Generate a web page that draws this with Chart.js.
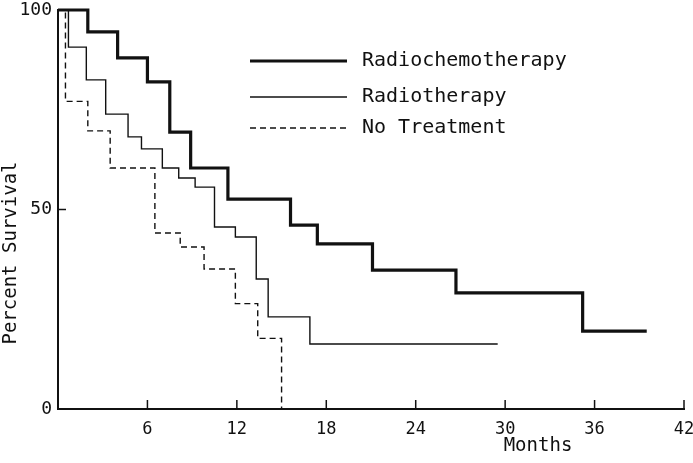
<!DOCTYPE html>
<html>
<head>
<meta charset="utf-8">
<script src="https://cdn.jsdelivr.net/npm/chart.js@4.4.1/dist/chart.umd.min.js"></script>
<style>
  html, body { margin: 0; padding: 0; background: #fff; }
  #wrap { width: 693px; height: 463px; }
</style>
</head>
<body>
<div id="wrap"><canvas id="chart" width="693" height="463"></canvas></div>
<script>
// =========================
// DATA (months / percent surviving)
// =========================
const radiochemoMonths = [0, 2.0, 4.0, 6.0, 7.5, 8.9, 11.4, 15.6, 17.4, 21.1, 26.7, 35.2, 39.5];
const radiochemoSurvival = [100, 94.5, 88.0, 82.0, 69.4, 60.4, 52.6, 46.1, 41.4, 34.8, 29.1, 19.5, 19.5];

const radioMonths = [0, 0.7, 1.9, 3.2, 4.7, 5.6, 7.0, 8.1, 9.2, 10.5, 11.9, 13.3, 14.1, 16.9, 29.5];
const radioSurvival = [100, 90.7, 82.5, 73.9, 68.2, 65.2, 60.4, 57.9, 55.6, 45.6, 43.1, 32.6, 23.1, 16.3, 16.3];

const noTreatMonths = [0, 0.5, 2.0, 3.5, 6.5, 8.2, 9.8, 11.9, 13.4, 15.0];
const noTreatSurvival = [100, 77.1, 69.7, 60.4, 44.1, 40.6, 35.1, 26.4, 17.7, 0];

const seriesLabels = ["Radiochemotherapy", "Radiotherapy", "No Treatment"];
const xTicks = [6, 12, 18, 24, 30, 36, 42];
const yTicks = [0, 50, 100];

const xTitle = "Months";
const yTitle = "Percent Survival";

const FONT = "'DejaVu Sans Mono', 'Liberation Mono', monospace";
const INK = "#111";

function toPoints(xs, ys) {
  return xs.map((x, i) => ({ x: x, y: ys[i] }));
}

// =========================
// PLUGIN: inward ticks, legend, axis titles
// =========================
const paperPlugin = {
  id: "paper",
  beforeDraw(chart) {
    const ctx = chart.ctx;
    ctx.save();
    ctx.fillStyle = "#fff";
    ctx.fillRect(0, 0, chart.width, chart.height);
    ctx.restore();
  },
  afterDraw(chart) {
    const ctx = chart.ctx;
    const area = chart.chartArea;
    const xs = chart.scales.x;
    const ys = chart.scales.y;

    ctx.save();
    ctx.strokeStyle = INK;
    ctx.lineWidth = 1.5;

    // ticks point into the plot
    xs.ticks.forEach((t) => {
      const px = xs.getPixelForValue(t.value);
      ctx.beginPath();
      ctx.moveTo(px, area.bottom);
      ctx.lineTo(px, area.bottom - 9);
      ctx.stroke();
    });
    ys.ticks.forEach((t) => {
      const py = ys.getPixelForValue(t.value);
      ctx.beginPath();
      ctx.moveTo(area.left, py);
      ctx.lineTo(area.left + 8, py);
      ctx.stroke();
    });

    // legend
    const rows = [51, 87, 118];
    ctx.font = "20px " + FONT;
    ctx.fillStyle = INK;
    ctx.textBaseline = "middle";
    ctx.textAlign = "left";
    chart.data.datasets.forEach((ds, i) => {
      const y = area.top + rows[i];
      ctx.save();
      ctx.lineWidth = ds.borderWidth;
      ctx.setLineDash(ds.borderDash || []);
      ctx.beginPath();
      ctx.moveTo(area.left + 192, y);
      ctx.lineTo(area.left + 289, y);
      ctx.stroke();
      ctx.restore();
      ctx.fillText(ds.label, area.left + 304, y);
    });

    // axis titles
    ctx.font = "19px " + FONT;
    ctx.textAlign = "center";
    ctx.fillText(xTitle, area.left + 480, area.bottom + 37);

    ctx.translate(area.left - 47, area.top + 243);
    ctx.rotate(-Math.PI / 2);
    ctx.fillText(yTitle, 0, 0);
    ctx.restore();
  },
};

// =========================
// CHART
// =========================
const lineStyles = [
  { width: 3.2, dash: [] },
  { width: 1.4, dash: [] },
  { width: 1.4, dash: [6, 4] },
];

const seriesData = [
  toPoints(radiochemoMonths, radiochemoSurvival),
  toPoints(radioMonths, radioSurvival),
  toPoints(noTreatMonths, noTreatSurvival),
];

new Chart(document.getElementById("chart"), {
  type: "line",
  data: {
    datasets: seriesData.map((pts, i) => ({
      label: seriesLabels[i],
      data: pts,
      borderColor: INK,
      borderWidth: lineStyles[i].width,
      borderDash: lineStyles[i].dash,
      stepped: true,
      pointRadius: 0,
      fill: false,
      clip: false,
    })),
  },
  options: {
    responsive: false,
    animation: false,
    devicePixelRatio: 1,
    layout: { padding: { top: 10, right: 9, left: 0, bottom: 0 } },
    plugins: {
      legend: { display: false },
      tooltip: { enabled: false },
    },
    scales: {
      x: {
        type: "linear",
        min: 0,
        max: 42,
        afterBuildTicks: (s) => {
          s.ticks = xTicks.map((v) => ({ value: v }));
        },
        afterFit: (s) => {
          s.height = 54;
          s.paddingLeft = 0;
          s.paddingRight = 0;
        },
        grid: { display: true, drawOnChartArea: false, drawTicks: false },
        border: { display: true, color: INK, width: 2 },
        ticks: {
          color: INK,
          padding: 10,
          labelOffset: 0,
          maxRotation: 0,
          font: { family: FONT, size: 17 },
        },
      },
      y: {
        min: 0,
        max: 100,
        afterBuildTicks: (s) => {
          s.ticks = yTicks.map((v) => ({ value: v }));
        },
        afterFit: (s) => {
          s.width = 58;
          s.paddingTop = 0;
          s.paddingBottom = 0;
        },
        grid: { display: true, drawOnChartArea: false, drawTicks: false },
        border: { display: true, color: INK, width: 2 },
        ticks: {
          color: INK,
          padding: 6,
          font: { family: FONT, size: 18 },
        },
      },
    },
  },
  plugins: [paperPlugin],
});
</script>
</body>
</html>
